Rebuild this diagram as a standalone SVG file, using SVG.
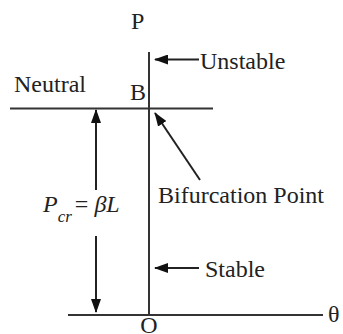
<svg xmlns="http://www.w3.org/2000/svg" width="343" height="334" viewBox="0 0 343 334">
<style>
.t{font-family:"Liberation Serif","Times New Roman",serif;font-size:24px;fill:#222}
.ln{stroke:#333;stroke-width:2;fill:none}
.ar{stroke:#222;stroke-width:2;fill:none}
</style>
<defs>
<marker id="ah" markerWidth="14" markerHeight="10" refX="13" refY="5" orient="auto" markerUnits="userSpaceOnUse">
<path d="M0,0 L14,5 L0,10 Z" fill="#111"/>
</marker>
</defs>
<rect width="343" height="334" fill="#fff"/>
<g id="axes">
<line class="ln" x1="149" y1="52" x2="149" y2="316"/>
<line class="ln" x1="68" y1="315" x2="323" y2="315"/>
<line class="ln" x1="10" y1="108.5" x2="213" y2="108.5"/>
</g>
<g id="labels">
<text class="t" x="131" y="29">P</text>
<text class="t" x="130" y="100">B</text>
<text class="t" x="14" y="92">Neutral</text>
<text class="t" x="149" y="333" text-anchor="middle" font-size="22">O</text>
<text class="t" x="328" y="322">θ</text>
</g>
<g id="unstable"><text class="t" x="200" y="69">Unstable</text></g>
<g id="bifurcation"><text class="t" x="158" y="203">Bifurcation Point</text></g>
<g id="stable"><text class="t" x="205" y="277">Stable</text></g>
<g id="pcr"><text class="t" x="43" y="212"><tspan font-style="italic">P</tspan><tspan font-style="italic" font-size="17" dy="10">cr</tspan><tspan dy="-10" dx="3">= </tspan><tspan font-style="italic">βL</tspan></text></g>
<g id="connectors">
<line class="ar" x1="199" y1="59.5" x2="155" y2="59.5" marker-end="url(#ah)"/>
<line class="ar" x1="199" y1="268" x2="155" y2="268" marker-end="url(#ah)"/>
<line class="ar" x1="200" y1="180" x2="155" y2="113" marker-end="url(#ah)"/>
<line class="ar" x1="96" y1="190" x2="96" y2="110" marker-end="url(#ah)"/>
<line class="ar" x1="96" y1="236" x2="96" y2="312" marker-end="url(#ah)"/>
</g>
</svg>
